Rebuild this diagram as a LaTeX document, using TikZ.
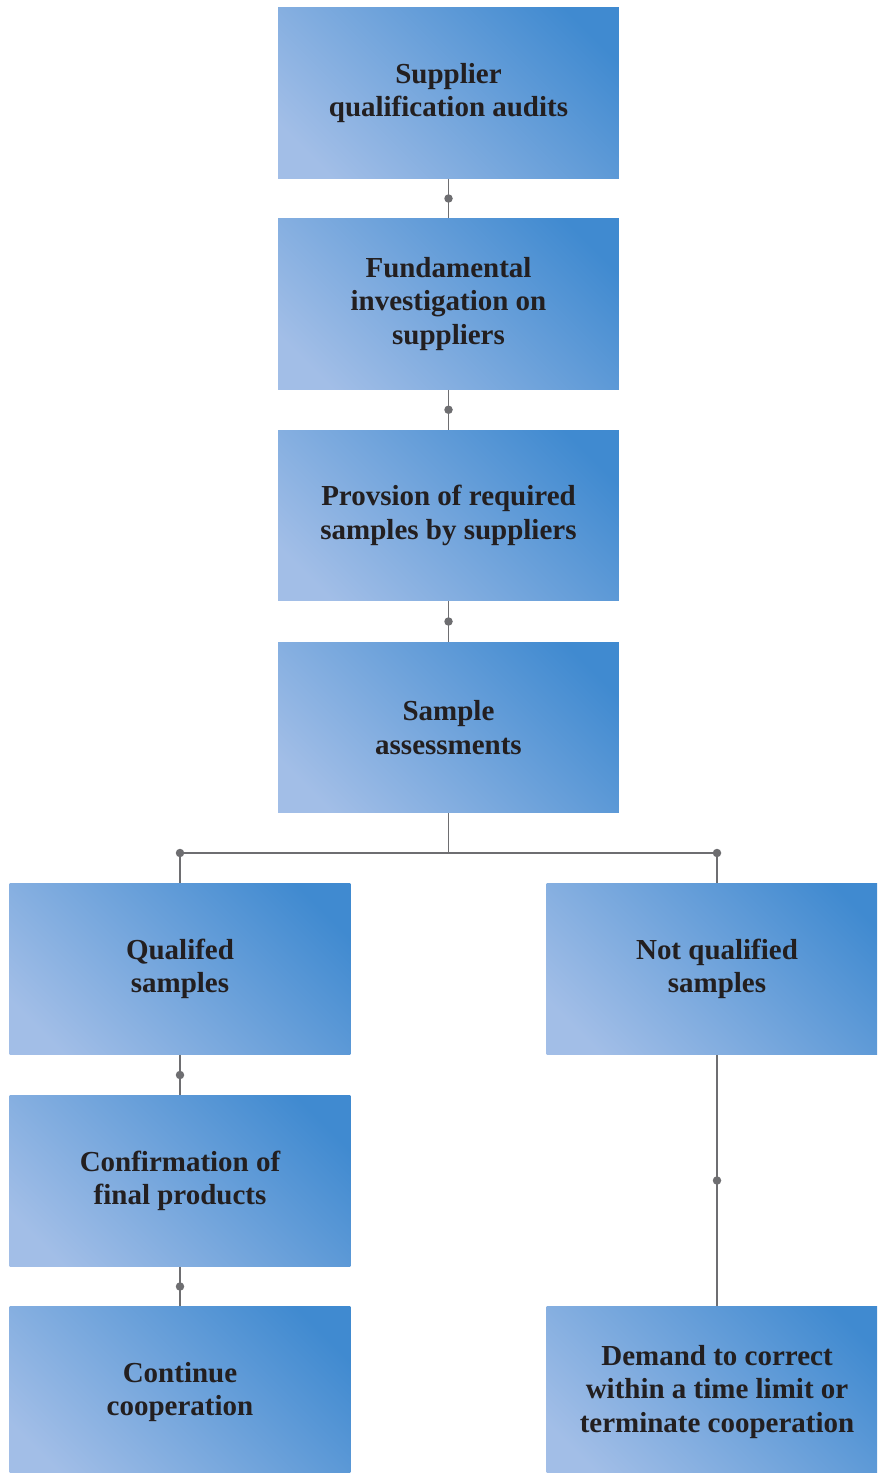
\documentclass[tikz,border=0pt]{standalone}
\usepackage{fontspec}
\setmainfont{Liberation Serif}
\usetikzlibrary{positioning, calc}
\definecolor{boxdark}{RGB}{64, 138, 208}
\definecolor{boxlight}{RGB}{162, 190, 231}
\definecolor{inkblack}{RGB}{35, 31, 32}
\definecolor{linkgray}{RGB}{110, 110, 113}
\pgfdeclareverticalshading{boxfade}{100bp}{color(0bp)=(boxlight); color(22bp)=(boxlight); color(78bp)=(boxdark); color(100bp)=(boxdark)}
\tikzset{
  stepbox/.style={rectangle, shading=boxfade, shading angle=-45, minimum width=6.82cm,
    minimum height=3.42cm, align=center, text=inkblack,
    font=\fontsize{16.5}{19}\selectfont\bfseries, inner sep=0pt},
  link/.style={linkgray, line width=0.75pt},
  dot/.style={circle, fill=linkgray, minimum size=0.17cm, inner sep=0pt}
}

\begin{document}
\begin{tikzpicture}[x=0.02cm, y=-0.02cm]
  \useasboundingbox (0,0) rectangle (877,1473);
  \clip (0,0) rectangle (877,1473);

  % Main column
  \node[stepbox] (audit) at (448.5, 93) {Supplier\\qualification audits};
  \node[stepbox] (investig) at (448.5, 304) {Fundamental\\investigation on\\suppliers};
  \node[stepbox] (provision) at (448.5, 515.5) {Provsion of required\\samples by suppliers};
  \node[stepbox] (assess) at (448.5, 727.5) {Sample\\assessments};

  % Left branch
  \node[stepbox] (qualified) at (180, 969) {Qualifed\\samples};
  \node[stepbox] (confirm) at (180, 1181) {Confirmation of\\final products};
  \node[stepbox] (continue) at (180, 1392) {Continue\\cooperation};

  % Right branch
  \node[stepbox] (notqual) at (717, 969) {Not qualified\\samples};
  \node[stepbox] (demand) at (717, 1392) {Demand to correct\\within a time limit or\\terminate cooperation};

  % Connectors
  \draw[link] (audit) -- node[dot] {} (investig);
  \draw[link] (investig) -- node[dot] {} (provision);
  \draw[link] (provision) -- node[dot] {} (assess);
  \coordinate (split) at (448.5, 853);
  \draw[link] (assess) -- (split);
  \draw[link] (split) -| node[pos=0.5, dot] {} (qualified.north);
  \draw[link] (split) -| node[pos=0.5, dot] {} (notqual.north);
  \draw[link] (qualified) -- node[dot] {} (confirm);
  \draw[link] (confirm) -- node[dot] {} (continue);
  \draw[link] (notqual) -- node[dot] {} (demand);
\end{tikzpicture}
\end{document}
